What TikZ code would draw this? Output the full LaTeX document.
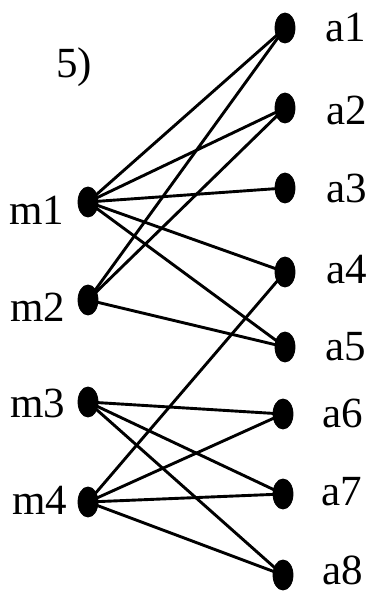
\documentclass[tikz,border=0pt]{standalone}
\usepackage{fontspec}
\setmainfont{Liberation Serif}
\usetikzlibrary{shapes.geometric}

\begin{document}
\begin{tikzpicture}[x=0.5pt, y=-0.5pt,
    vert/.style={ellipse, fill=black, draw=black, inner sep=0pt, minimum width=10pt, minimum height=15pt},
    lbl/.style={inner sep=0pt, font=\fontsize{21.5}{23}\selectfont},
    edge/.style={draw=black, line width=1.45pt}
  ]
    \useasboundingbox (0,0) rectangle (385,592);

    \node[lbl] (num) at (74, 67) {5)};

    \node[vert] (m1) at (88, 202) {};
    \node[vert] (m2) at (88, 300) {};
    \node[vert] (m3) at (88, 402) {};
    \node[vert] (m4) at (88, 502) {};

    \node[vert] (a1) at (285, 28) {};
    \node[vert] (a2) at (285, 108) {};
    \node[vert] (a3) at (285, 188) {};
    \node[vert] (a4) at (285, 272) {};
    \node[vert] (a5) at (285, 347) {};
    \node[vert] (a6) at (283, 414) {};
    \node[vert] (a7) at (283, 494) {};
    \node[vert] (a8) at (283, 575) {};

    \node[lbl] (lm1) at (37, 210) {m1};
    \node[lbl] (lm2) at (38, 307) {m2};
    \node[lbl] (lm3) at (38, 403) {m3};
    \node[lbl] (lm4) at (40, 500) {m4};

    \node[lbl] (la1) at (346, 28) {a1};
    \node[lbl] (la2) at (347, 110) {a2};
    \node[lbl] (la3) at (347, 188) {a3};
    \node[lbl] (la4) at (347, 270) {a4};
    \node[lbl] (la5) at (346, 347) {a5};
    \node[lbl] (la6) at (343, 413) {a6};
    \node[lbl] (la7) at (342, 492) {a7};
    \node[lbl] (la8) at (343, 570) {a8};

    \foreach \a in {a1,a2,a3,a4,a5} \draw[edge] (m1.center) -- (\a.center);
    \foreach \a in {a1,a2,a5} \draw[edge] (m2.center) -- (\a.center);
    \foreach \a in {a6,a7,a8} \draw[edge] (m3.center) -- (\a.center);
    \foreach \a in {a4,a6,a7,a8} \draw[edge] (m4.center) -- (\a.center);
  \end{tikzpicture}
\end{document}
